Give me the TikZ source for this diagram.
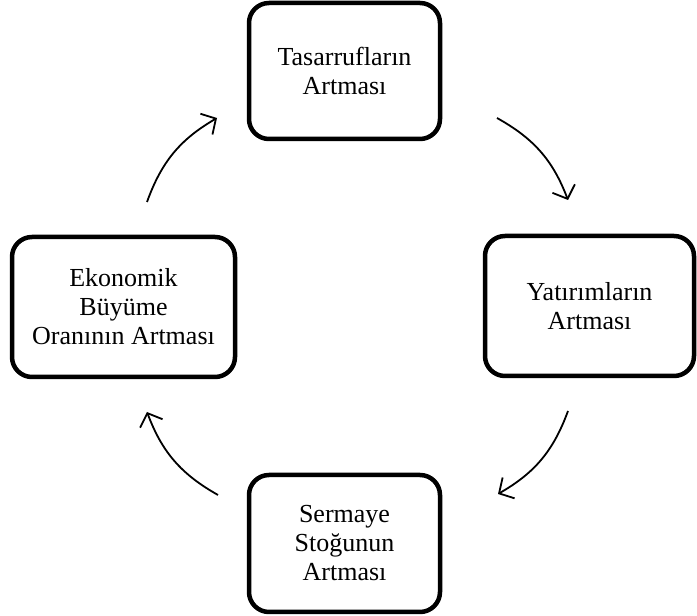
\documentclass[tikz,border=0pt]{standalone}
\usepackage{fontspec}
\setmainfont{Liberation Serif}
\usetikzlibrary{arrows.meta,positioning}
\tikzstyle{block}=[draw, rectangle, rounded corners=20pt, line width=4.5pt, align=center, font=\fontsize{26}{29}\selectfont]
\tikzstyle{cycle}=[line width=1.8pt, -{Straight Barb[length=11pt,width=24pt]}]
\tikzstyle{free}=[coordinate]

\begin{document}
\begin{tikzpicture}[x=1pt, y=1pt]
                    \useasboundingbox (0,0) rectangle (697,616);
                    \node [block, minimum width=191pt, minimum height=136pt] (tasarruf) at (344.5,545) {Tasarrufların\\Artması};
                    \node [block, minimum width=209pt, minimum height=140pt] (yatirim) at (589.5,310) {Yatırımların\\Artması};
                    \node [block, minimum width=191pt, minimum height=137pt] (sermaye) at (344.5,72.5) {Sermaye\\Stoğunun\\Artması};
                    \node [block, minimum width=223pt, minimum height=140pt] (buyume) at (123.5,309) {Ekonomik\\Büyüme\\Oranının Artması};

                    \node [free] (tr-a) at (497,498) {};
                    \node [free] (tr-b) at (568,416) {};
                    \node [free] (br-a) at (568,205) {};
                    \node [free] (br-b) at (498,122) {};
                    \node [free] (bl-a) at (218,121) {};
                    \node [free] (bl-b) at (147,204) {};
                    \node [free] (tl-a) at (147,414) {};
                    \node [free] (tl-b) at (217,498) {};

                    \draw[cycle] (tr-a) to[bend left=20] (tr-b);
                    \draw[cycle] (br-a) to[bend left=20] (br-b);
                    \draw[cycle] (bl-a) to[bend left=20] (bl-b);
                    \draw[cycle] (tl-a) to[bend left=20] (tl-b);
                \end{tikzpicture}
\end{document}
